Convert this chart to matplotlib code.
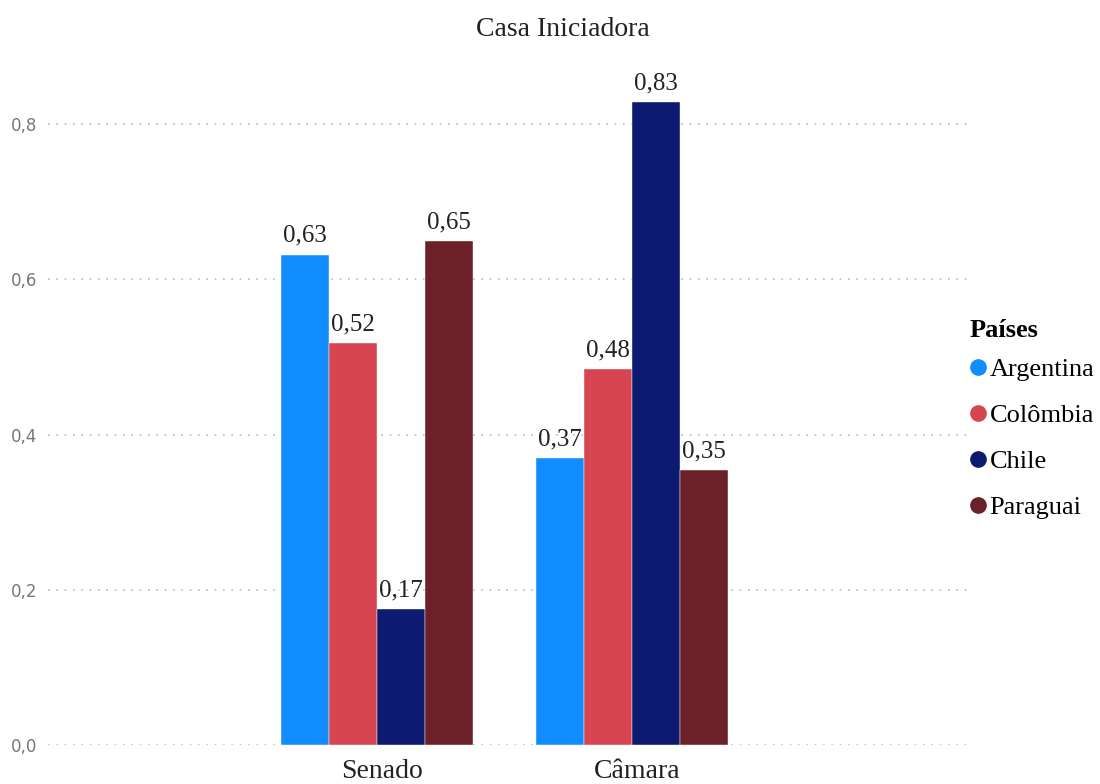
import numpy as np
import matplotlib.pyplot as plt
from matplotlib.lines import Line2D

# Data
casas = ["Senado", "Câmara"]
paises = ["Argentina", "Colômbia", "Chile", "Paraguai"]
argentina = [0.632, 0.370]
colombia = [0.518, 0.484]
chile = [0.175, 0.828]
paraguai = [0.649, 0.354]
rotulos = [["0,63", "0,37"], ["0,52", "0,48"], ["0,17", "0,83"], ["0,65", "0,35"]]
cores = ["#118DFF", "#D64550", "#0C1A70", "#6B2127"]

serif = "Liberation Serif"

fig = plt.figure(figsize=(11, 7.84), dpi=100)
ax = fig.add_axes([0.044, 0.0497, 0.838, 0.891])

x = np.arange(len(casas))
w = 0.188
series = [argentina, colombia, chile, paraguai]
for i, vals in enumerate(series):
    pos = x + (i - 1.5) * w
    ax.bar(pos, vals, width=w, color=cores[i], edgecolor="white", linewidth=0.3, zorder=3)
    for p, v, t in zip(pos, vals, rotulos[i]):
        ax.text(p, v + 0.01, t, ha="center", va="bottom", fontsize=18,
                family=serif, color="#222222", zorder=4)

ax.set_xlim(-1.29, 2.325)
ax.set_ylim(0, 0.9)
ax.set_yticks([0, 0.2, 0.4, 0.6, 0.8])
ax.set_yticklabels(["0,0", "0,2", "0,4", "0,6", "0,8"])
ax.set_xticks(x + 0.02)
ax.set_xticklabels(casas, fontsize=20, family=serif, color="#222222")

ax.tick_params(axis="y", length=0, labelsize=12, labelcolor="#777777", pad=8)
ax.tick_params(axis="x", length=0, pad=10)
for s in ax.spines.values():
    s.set_visible(False)
ax.grid(axis="y", linestyle=(0, (1, 4)), color="#BBBBBB", linewidth=1.2, zorder=0)

fig.text(0.512, 0.962, "Casa Iniciadora", ha="center", va="center",
         fontsize=20, family=serif, color="#222222")

handles = [Line2D([0], [0], marker="o", linestyle="", markersize=11,
                  markerfacecolor=c, markeredgecolor=c) for c in cores]
leg = fig.legend(handles, paises, loc="upper left", bbox_to_anchor=(0.8815, 0.5926),
                 frameon=False, title="Países", handletextpad=0.15,
                 labelspacing=0.85, handlelength=0.6, borderaxespad=0, borderpad=0,
                 prop={"family": serif, "size": 19})
leg.get_title().set_fontfamily(serif)
leg.get_title().set_fontsize(19)
leg.get_title().set_fontweight("bold")
leg._legend_box.align = "left"
# tighten gap between legend title and items
leg._legend_box.sep = 11

fig.savefig("out.png", dpi=100)
